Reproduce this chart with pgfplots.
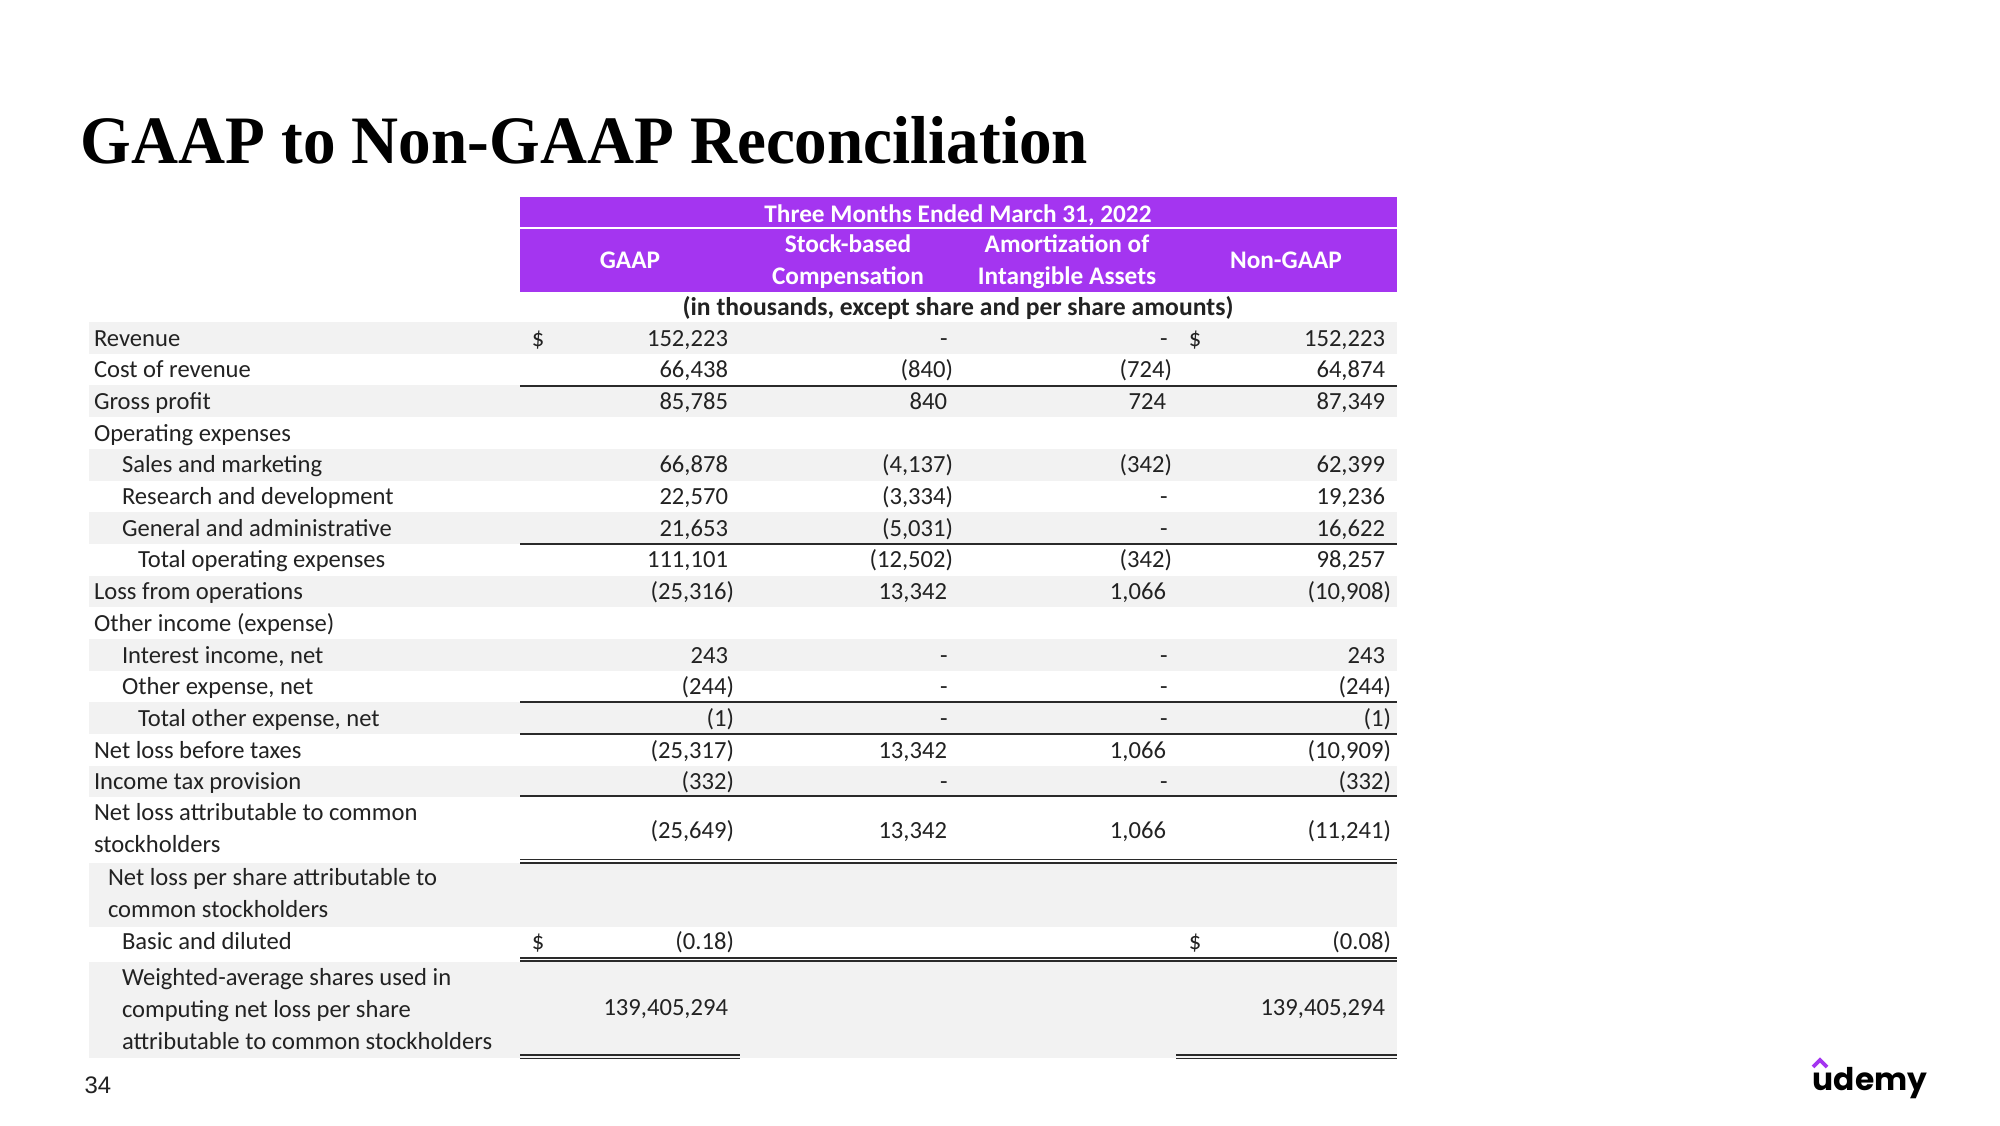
\documentclass[border=0pt]{standalone}
\usepackage{pgfplots}
\pgfplotsset{compat=1.18}
\usepackage{pgfplotstable}
\usepackage{fontspec}
\setmainfont{Carlito}
\newfontfamily\titlefont[FakeStretch=0.96]{Liberation Serif}
\newfontfamily\pagefont{Liberation Sans}
\newfontfamily\logofont{Poppins}
\definecolor{udpurple}{HTML}{A435F0}
\definecolor{stripe}{HTML}{F2F2F2}
\definecolor{ink}{HTML}{222222}
\definecolor{rulec}{HTML}{2A2A2A}

% row labels (left aligned)
\pgfplotstableread[col sep=semicolon,row sep=\\]{
x;y;t\\
94;348;Revenue\\
94;379.7;Cost of revenue\\
94;411.4;Gross profit\\
94;443.1;Operating expenses\\
122;474.8;Sales and marketing\\
122;506.5;Research and development\\
122;538.2;General and administrative\\
138;569.9;Total operating expenses\\
94;601.6;Loss from operations\\
94;633.3;Other income (expense)\\
122;665;Interest income, net\\
122;696.7;Other expense, net\\
138;728.4;Total other expense, net\\
94;760.1;Net loss before taxes\\
94;791.8;Income tax provision\\
94;822.5;Net loss attributable to common\\
94;854.4;stockholders\\
108;887.5;Net loss per share attributable to\\
108;919.5;common stockholders\\
122;951.7;Basic and diluted\\
122;987;Weighted-average shares used in\\
122;1019;computing net loss per share\\
122;1051;attributable to common stockholders\\
}\rowlabels

% numbers (right aligned)
\pgfplotstableread[col sep=semicolon,row sep=\\]{
x;y;t\\
728;348;152,223\\
1385;348;152,223\\
728;379.7;66,438\\
953;379.7;(840)\\
1172;379.7;(724)\\
1385;379.7;64,874\\
728;411.4;85,785\\
947;411.4;840\\
1166;411.4;724\\
1385;411.4;87,349\\
728;474.8;66,878\\
953;474.8;(4,137)\\
1172;474.8;(342)\\
1385;474.8;62,399\\
728;506.5;22,570\\
953;506.5;(3,334)\\
1385;506.5;19,236\\
728;538.2;21,653\\
953;538.2;(5,031)\\
1385;538.2;16,622\\
728;569.9;111,101\\
953;569.9;(12,502)\\
1172;569.9;(342)\\
1385;569.9;98,257\\
734;601.6;(25,316)\\
947;601.6;13,342\\
1166;601.6;1,066\\
1391;601.6;(10,908)\\
728;665;243\\
1385;665;243\\
734;696.7;(244)\\
1391;696.7;(244)\\
734;728.4;(1)\\
1391;728.4;(1)\\
734;760.1;(25,317)\\
947;760.1;13,342\\
1166;760.1;1,066\\
1391;760.1;(10,909)\\
734;791.8;(332)\\
1391;791.8;(332)\\
734;840;(25,649)\\
947;840;13,342\\
1166;840;1,066\\
1391;840;(11,241)\\
734;951.7;(0.18)\\
1391;951.7;(0.08)\\
728;1017;139,405,294\\
1385;1017;139,405,294\\
}\numbers

% centred marks: dashes and dollar signs
\pgfplotstableread[col sep=semicolon,row sep=\\]{
x;y;t\\
944;348;-\\
1164;348;-\\
1164;506.5;-\\
1164;538.2;-\\
944;665;-\\
1164;665;-\\
944;696.7;-\\
1164;696.7;-\\
944;728.4;-\\
1164;728.4;-\\
944;791.8;-\\
1164;791.8;-\\
538;348;\$\\
1195;348;\$\\
538;951.7;\$\\
1195;951.7;\$\\
}\centred

% header (white, bold, centred)
\pgfplotstableread[col sep=semicolon,row sep=\\]{
x;y;t\\
958;222;Three Months Ended March 31, 2022\\
630;268;GAAP\\
848;252;Stock-based\\
848;284;Compensation\\
1067;252;Amortization of\\
1067;284;Intangible Assets\\
1286;268;Non-GAAP\\
}\header

\pgfplotsset{
  txt/.style={only marks, mark=none, point meta=explicit symbolic,
    nodes near coords={\pgfplotspointmeta},
    every node near coord/.append style={anchor=#1, inner sep=0pt, outer sep=0pt,
      text=ink, font=\fontsize{7}{8}\selectfont}},
  up/.style={every node near coord/.append style={yshift=0.55pt}},
}

\begin{document}
\begin{tikzpicture}
\begin{axis}[width=20cm, height=11.25cm, scale only axis,
  xmin=0, xmax=2000, ymin=0, ymax=1125, y dir=reverse,
  hide axis, clip=false]
\fill[white] (axis cs:0,0) rectangle (axis cs:2000,1125);
% stripes
\fill[stripe] (axis cs:89,322) rectangle (axis cs:1397,353.7);
\fill[stripe] (axis cs:89,385.4) rectangle (axis cs:1397,417.1);
\fill[stripe] (axis cs:89,448.8) rectangle (axis cs:1397,480.5);
\fill[stripe] (axis cs:89,512.2) rectangle (axis cs:1397,543.9);
\fill[stripe] (axis cs:89,575.6) rectangle (axis cs:1397,607.3);
\fill[stripe] (axis cs:89,639) rectangle (axis cs:1397,670.7);
\fill[stripe] (axis cs:89,702.4) rectangle (axis cs:1397,734.1);
\fill[stripe] (axis cs:89,765.8) rectangle (axis cs:1397,797);
\fill[stripe] (axis cs:89,863) rectangle (axis cs:1397,927);
\fill[stripe] (axis cs:89,962) rectangle (axis cs:1397,1058);
% header block
\fill[udpurple] (axis cs:520,197) rectangle (axis cs:1397,292);
\draw[white, line width=0.6pt] (axis cs:520,228) -- (axis cs:1397,228);
% rules
\draw[rulec, line width=0.55pt] (axis cs:520,386) -- (axis cs:1397,386);
\draw[rulec, line width=0.55pt] (axis cs:520,544) -- (axis cs:1397,544);
\draw[rulec, line width=0.55pt] (axis cs:520,702.4) -- (axis cs:1397,702.4);
\draw[rulec, line width=0.55pt] (axis cs:520,734.1) -- (axis cs:1397,734.1);
\draw[rulec, line width=0.8pt] (axis cs:520,796) -- (axis cs:1397,796);
\draw[rulec, line width=0.45pt] (axis cs:520,859.3) -- (axis cs:1397,859.3);
\draw[rulec, line width=0.45pt] (axis cs:520,862.7) -- (axis cs:1397,862.7);
\draw[rulec, line width=0.45pt] (axis cs:520,957.7) -- (axis cs:1397,957.7);
\draw[rulec, line width=0.45pt] (axis cs:520,961) -- (axis cs:1397,961);
\draw[rulec, line width=0.45pt] (axis cs:520,1055) -- (axis cs:740,1055);
\draw[rulec, line width=0.45pt] (axis cs:520,1058.3) -- (axis cs:740,1058.3);
\draw[rulec, line width=0.45pt] (axis cs:1176,1055) -- (axis cs:1397,1055);
\draw[rulec, line width=0.45pt] (axis cs:1176,1058.3) -- (axis cs:1397,1058.3);
% texts
\addplot[txt=base west, up] table[x=x, y=y, meta=t] {\rowlabels};
\addplot[txt=base east, up] table[x=x, y=y, meta=t] {\numbers};
\addplot[txt=base, up] table[x=x, y=y, meta=t] {\centred};
\addplot[txt=base, every node near coord/.append style={text=white,
   font=\fontsize{7.2}{8}\selectfont\bfseries}] table[x=x, y=y, meta=t] {\header};
\node[anchor=base, inner sep=0pt, text=ink, font=\fontsize{7.3}{8}\selectfont\bfseries]
  at (axis cs:958,315) {(in thousands, except share and per share amounts)};
% title
\node[anchor=base west, inner sep=0pt, text=black] at (axis cs:80,163)
  {\titlefont\bfseries\fontsize{19.3}{21}\selectfont GAAP to Non-GAAP Reconciliation};
% page number
\node[anchor=base west, inner sep=0pt, text=ink] at (axis cs:84,1093)
  {\pagefont\fontsize{6.8}{8}\selectfont 34};
% logo
\node[anchor=base west, inner sep=0pt, text=black] at (axis cs:1812,1090)
  {\logofont\bfseries\fontsize{8.9}{10}\selectfont udemy};
\draw[udpurple, line width=1.05pt] (axis cs:1813,1067) -- (axis cs:1820,1060) -- (axis cs:1827,1067);
\end{axis}
\end{tikzpicture}
\end{document}
